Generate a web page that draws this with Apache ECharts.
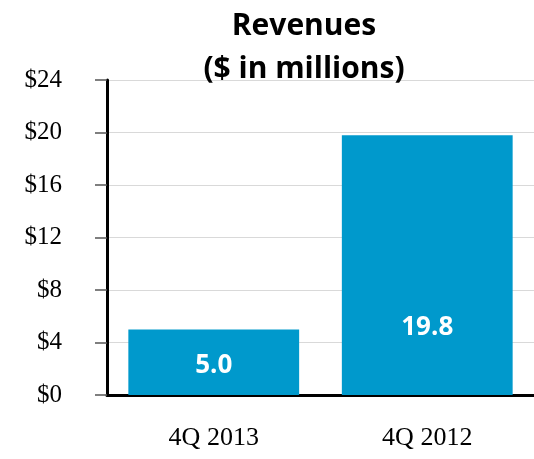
<!DOCTYPE html>
<html>
<head>
<meta charset="utf-8">
<script src="https://cdn.jsdelivr.net/npm/echarts@6/dist/echarts.min.js"></script>
<style>
  html, body { margin: 0; padding: 0; background: #ffffff; }
  #chart { width: 534px; height: 459px; }
</style>
</head>
<body>
<div id="chart"></div>
<script>
// Quarterly revenue, $ in millions
const categories = ['4Q 2013', '4Q 2012'];
const revenues = [5.0, 19.8];
const yTicks = { min: 0, max: 24, interval: 4 };
const titleLines = ['Revenues', '($ in millions)'];

const chart = echarts.init(document.getElementById('chart'), null, { renderer: 'canvas' });

const barData = revenues.map((v, i) => ({
  value: v,
  label: i === 1
    ? { position: 'insideBottom', distance: 57 }
    : { position: 'inside' }
}));

chart.setOption({
  animation: false,
  title: {
    text: titleLines.join('\n'),
    left: 299,
    textAlign: 'center',
    top: 0,
    padding: 5,
    textStyle: {
      fontFamily: 'Open Sans',
      fontWeight: 'bold',
      fontSize: 30,
      lineHeight: 43,
      color: '#000000'
    }
  },
  grid: { left: 107, top: 80, width: 428, bottom: 64, containLabel: false },
  xAxis: {
    type: 'category',
    data: categories,
    axisLine: { lineStyle: { color: '#000000', width: 3 } },
    axisTick: { alignWithLabel: true, length: 11, lineStyle: { color: '#333333', width: 1.5 } },
    axisLabel: {
      margin: 30,
      fontFamily: 'Liberation Serif',
      fontSize: 26,
      color: '#000000'
    }
  },
  yAxis: {
    type: 'value',
    min: yTicks.min,
    max: yTicks.max,
    interval: yTicks.interval,
    axisLine: { show: true, lineStyle: { color: '#000000', width: 3 } },
    axisTick: { show: true, length: 12, lineStyle: { color: '#555555', width: 1.5 } },
    splitLine: { lineStyle: { color: '#d9d9d9', width: 1 } },
    axisLabel: {
      margin: 45,
      fontFamily: 'Liberation Serif',
      fontSize: 25,
      color: '#000000',
      formatter: v => '$' + v
    }
  },
  series: [{
    type: 'bar',
    data: barData,
    barCategoryGap: '20%',
    itemStyle: { color: '#0099cc' },
    label: {
      show: true,
      offset: [0, 3],
      color: '#ffffff',
      fontFamily: 'Open Sans',
      fontWeight: 'bold',
      fontSize: 26,
      formatter: p => p.value.toFixed(1)
    }
  }]
});
</script>
</body>
</html>
